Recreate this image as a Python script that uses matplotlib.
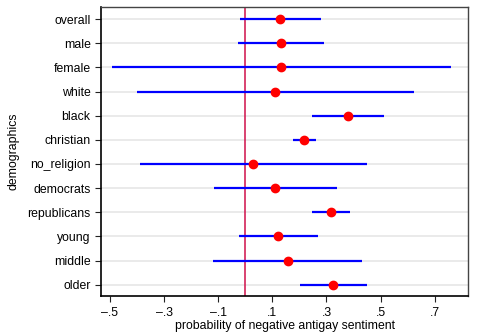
import matplotlib
matplotlib.use("Agg")
from matplotlib import pyplot as plt
from matplotlib.ticker import FixedLocator, FixedFormatter

plt.rcParams['font.family'] = ['Liberation Sans', 'DejaVu Sans']

groups = ['overall', 'male', 'female', 'white', 'black', 'christian', 'no_religion',
          'democrats', 'republicans', 'young', 'middle', 'older']
estimate = [0.130, 0.132, 0.132, 0.111, 0.379, 0.217, 0.028, 0.110, 0.317, 0.121, 0.157, 0.326]
ci_low = [-0.020, -0.027, -0.494, -0.399, 0.248, 0.177, -0.389, -0.116, 0.248, -0.024, -0.119, 0.202]
ci_high = [0.279, 0.292, 0.760, 0.622, 0.512, 0.260, 0.448, 0.338, 0.387, 0.269, 0.432, 0.449]
xticks = [-0.5, -0.3, -0.1, 0.1, 0.3, 0.5, 0.7]
xtick_labels = ['\u2013.5', '\u2013.3', '\u2013.1', '.1', '.3', '.5', '.7']

fig = plt.figure(figsize=(4.81, 3.32), dpi=100)
ax = fig.add_axes([0.21, 0.108, 0.763, 0.871])

ypos = list(range(len(groups)))
# light horizontal grid on every category
for y in ypos:
    ax.axhline(y, color='#e6e6e6', lw=1.2, zorder=0)

ax.hlines(ypos, ci_low, ci_high, color='#0000ff', lw=1.6, zorder=2)
ax.plot(estimate, ypos, 'o', color='#ff0000', markersize=6, zorder=3)
ax.axvline(0, color='#d0104a', lw=1.1, zorder=1)

ax.set_xlim(-0.533, 0.823)
ax.set_ylim(11.47, -0.5)
ax.set_yticks(ypos)
ax.set_yticklabels(groups)
ax.xaxis.set_major_locator(FixedLocator(xticks))
ax.xaxis.set_major_formatter(FixedFormatter(xtick_labels))
ax.tick_params(labelsize=8.8, length=4, width=0.8, color='#222222')
ax.set_xlabel('probability of negative antigay sentiment', fontsize=8.8, labelpad=1)
ax.set_ylabel('demographics', fontsize=8.8, labelpad=6)

for s in ['left', 'bottom']:
    ax.spines[s].set_color('black')
    ax.spines[s].set_linewidth(1.2)
for s in ['top', 'right']:
    ax.spines[s].set_color('#444444')
    ax.spines[s].set_linewidth(1.0)

plt.savefig('out.png', dpi=100)
plt.close()
